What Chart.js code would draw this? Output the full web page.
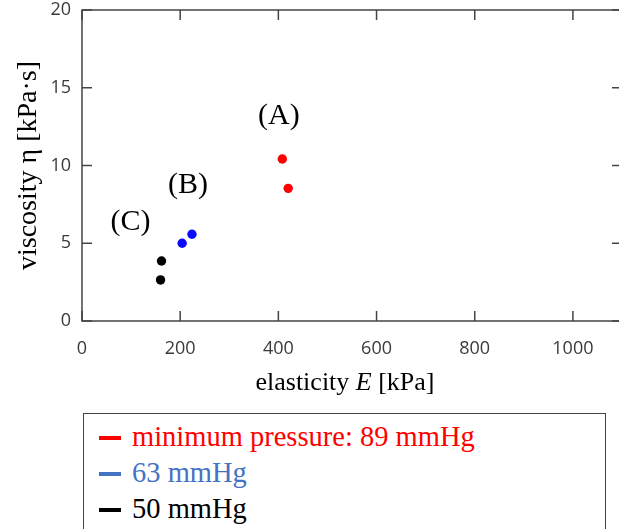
<!DOCTYPE html>
<html>
<head>
    <title>Viscosity vs elasticity</title>
    <script src="https://cdn.jsdelivr.net/npm/chart.js"></script>
    <style>
        body {
            margin: 0;
            background-color: #ffffff;
            overflow: hidden;
            width: 619px;
            height: 529px;
            position: relative;
        }

        #chart-wrap {
            position: absolute;
            left: 0;
            top: 0;
            width: 630px;
            height: 400px;
        }

        #legend {
            position: absolute;
            left: 83px;
            top: 413px;
            width: 523px;
            height: 140px;
            border: 1.5px solid #444;
            box-sizing: border-box;
            font-family: "Liberation Serif", "Times New Roman", serif;
            font-size: 28.5px;
            padding-top: 5px;
        }

        .legend-row {
            position: relative;
            height: 36px;
            line-height: 36px;
            padding-left: 48px;
            white-space: nowrap;
        }

        .legend-mark {
            position: absolute;
            left: 15px;
            top: 17px;
            width: 22px;
            height: 4px;
        }
    </style>
</head>
<body>

    <div id="chart-wrap"><canvas id="chart" width="630" height="400"></canvas></div>
    <div id="legend"></div>

    <script>
        // series: minimum pressure 89 / 63 / 50 mmHg
        const seriesLabels = ['minimum pressure: 89 mmHg', '63 mmHg', '50 mmHg'];
        const pointColors = ['#ff0000', '#0a0aff', '#000000'];
        const legendColors = ['#ff0000', '#4472c4', '#000000'];

        const elasticityA = [408, 420];
        const viscosityA = [10.42, 8.53];
        const elasticityB = [204, 224];
        const viscosityB = [5.0, 5.58];
        const elasticityC = [162, 160];
        const viscosityC = [3.86, 2.64];

        const xTickValues = [0, 200, 400, 600, 800, 1000];
        const yTickValues = [0, 5, 10, 15, 20];

        const annoText = ['(A)', '(B)', '(C)'];
        const annoX = [401, 216, 99];
        const annoY = [13.18, 8.75, 6.37];

        const xTitle = ['elasticity ', 'E', ' [kPa]'];
        const yTitle = 'viscosity \u03b7 [kPa\u00b7s]';

        function toPoints(xs, ys) {
            return xs.map((x, i) => ({ x: x, y: ys[i] }));
        }

        const allX = [elasticityA, elasticityB, elasticityC];
        const allY = [viscosityA, viscosityB, viscosityC];

        const datasets = seriesLabels.map((label, i) => ({
            label: label,
            data: toPoints(allX[i], allY[i]),
            backgroundColor: pointColors[i],
            borderColor: pointColors[i],
            pointRadius: 4.7,
            pointBorderWidth: 0
        }));

        // box frame with inward ticks, annotations and axis titles
        const framePlugin = {
            id: 'frame',
            afterDraw(chart) {
                const ctx = chart.ctx;
                const area = chart.chartArea;
                const xs = chart.scales.x;
                const ys = chart.scales.y;
                ctx.save();
                ctx.strokeStyle = '#444';
                ctx.lineWidth = 1.5;
                ctx.strokeRect(area.left, area.top, area.right - area.left, area.bottom - area.top);
                ctx.beginPath();
                xs.ticks.forEach(t => {
                    const px = xs.getPixelForValue(t.value);
                    ctx.moveTo(px, area.bottom);
                    ctx.lineTo(px, area.bottom - 10);
                    ctx.moveTo(px, area.top);
                    ctx.lineTo(px, area.top + 10);
                });
                ys.ticks.forEach(t => {
                    const py = ys.getPixelForValue(t.value);
                    ctx.moveTo(area.left, py);
                    ctx.lineTo(area.left + 10, py);
                    ctx.moveTo(area.right, py);
                    ctx.lineTo(area.right - 10, py);
                });
                ctx.stroke();

                // annotations
                ctx.fillStyle = '#000';
                ctx.font = '30px "Liberation Serif", serif';
                ctx.textAlign = 'center';
                ctx.textBaseline = 'middle';
                annoText.forEach((txt, i) => {
                    ctx.fillText(txt, xs.getPixelForValue(annoX[i]), ys.getPixelForValue(annoY[i]));
                });

                // y title
                ctx.save();
                ctx.translate(36, (area.top + area.bottom) / 2);
                ctx.rotate(-Math.PI / 2);
                ctx.font = '28px "Liberation Serif", serif';
                ctx.textBaseline = 'alphabetic';
                ctx.fillText(yTitle, 0, 0);
                ctx.restore();

                // x title with italic E
                const fonts = ['26px "Liberation Serif", serif', 'italic 26px "Liberation Serif", serif', '26px "Liberation Serif", serif'];
                let total = 0;
                const widths = xTitle.map((s, i) => {
                    ctx.font = fonts[i];
                    const w = ctx.measureText(s).width;
                    total += w;
                    return w;
                });
                let x = 345 - total / 2;
                ctx.textAlign = 'left';
                ctx.textBaseline = 'alphabetic';
                xTitle.forEach((s, i) => {
                    ctx.font = fonts[i];
                    ctx.fillText(s, x, 390);
                    x += widths[i];
                });
                ctx.restore();
            }
        };

        const ctx = document.getElementById('chart').getContext('2d');
        const chart = new Chart(ctx, {
            type: 'scatter',
            data: { datasets: datasets },
            options: {
                responsive: false,
                animation: false,
                layout: {
                    padding: { top: 10, right: 8, left: 0, bottom: 0 }
                },
                plugins: {
                    legend: { display: false },
                    tooltip: { enabled: false }
                },
                scales: {
                    x: {
                        type: 'linear',
                        min: 0,
                        max: 1100,
                        afterBuildTicks: scale => {
                            scale.ticks = xTickValues.map(v => ({ value: v }));
                        },
                        afterFit: scale => {
                            scale.height = 79;
                            scale.paddingLeft = 0;
                            scale.paddingRight = 0;
                        },
                        grid: { display: false, drawTicks: false },
                        border: { display: false },
                        ticks: {
                            padding: 17,
                            color: '#3a3a3a',
                            font: { family: '"Open Sans", sans-serif', size: 18 },
                            callback: v => String(v)
                        }
                    },
                    y: {
                        type: 'linear',
                        min: 0,
                        max: 20,
                        afterBuildTicks: scale => {
                            scale.ticks = yTickValues.map(v => ({ value: v }));
                        },
                        afterFit: scale => {
                            scale.width = 82;
                            scale.paddingTop = 0;
                            scale.paddingBottom = 0;
                        },
                        grid: { display: false, drawTicks: false },
                        border: { display: false },
                        ticks: {
                            padding: 11,
                            color: '#3a3a3a',
                            font: { family: '"Open Sans", sans-serif', size: 18 },
                            callback: v => String(v)
                        }
                    }
                }
            },
            plugins: [framePlugin]
        });

        // legend in a box below the plot
        const legend = document.getElementById('legend');
        seriesLabels.forEach((label, i) => {
            const row = document.createElement('div');
            row.className = 'legend-row';
            row.style.color = legendColors[i];
            const mark = document.createElement('span');
            mark.className = 'legend-mark';
            mark.style.backgroundColor = legendColors[i];
            row.appendChild(mark);
            row.appendChild(document.createTextNode(label));
            legend.appendChild(row);
        });
    </script>
</body>
</html>
